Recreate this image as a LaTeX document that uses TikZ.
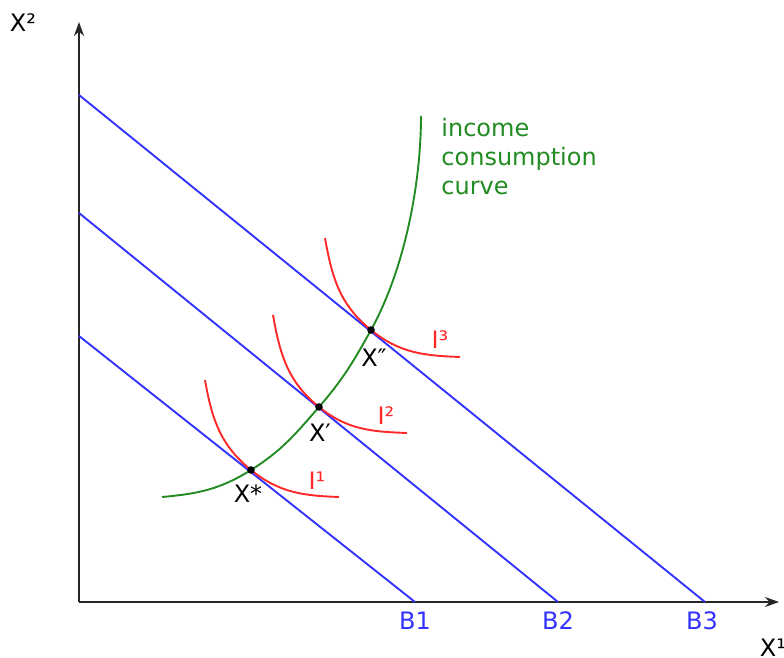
\documentclass[tikz,border=0pt]{standalone}
\usepackage{fontspec}
\setmainfont{DejaVu Sans}
\usetikzlibrary{arrows.meta}
\definecolor{budget}{RGB}{51,51,255}
\definecolor{indiff}{RGB}{255,40,40}
\definecolor{icc}{RGB}{34,139,34}
\tikzset{axis/.style={-{Stealth[length=7pt,width=5pt]}, line width=0.9pt, black!85},
  bline/.style={budget, line width=0.95pt},
  icurve/.style={indiff, line width=0.95pt},
  optpt/.style={circle, fill=black, inner sep=0pt, minimum size=3.8pt}}

\begin{document}
\begin{tikzpicture}[x=0.5pt, y=0.5pt, font=\fontsize{12}{14.5}\selectfont]
  \useasboundingbox (0,0) rectangle (784,658);
  % axes
  \coordinate (o) at (79,56);
  \coordinate (ytip) at (79,636);
  \coordinate (xtip) at (779,56);
  \draw[axis] (o) -- (ytip);
  \draw[axis] (o) -- (xtip);
  \node (xtwo) at (23,635) {X²};
  \node (xone) at (773,10) {X¹};
  % budget lines B1..B3
  \coordinate (b1a) at (79,322);  \coordinate (b1b) at (415,56);
  \coordinate (b2a) at (79,445);  \coordinate (b2b) at (558,56);
  \coordinate (b3a) at (79,563);  \coordinate (b3b) at (705,56);
  \draw[bline] (b1a) -- (b1b);
  \draw[bline] (b2a) -- (b2b);
  \draw[bline] (b3a) -- (b3b);
  \node[text=budget] (bone) at (415,37) {B1};
  \node[text=budget] (btwo) at (558,37) {B2};
  \node[text=budget] (bthree) at (702,37) {B3};
  % optimal bundles
  \coordinate (xs) at (251,188);
  \coordinate (xp) at (319,251);
  \coordinate (xpp) at (371,328);
  % indifference curves, tangent to the budget lines
  \coordinate (i1a) at (205,278);  \coordinate (i1b) at (339,161);
  \coordinate (i2a) at (273,343);  \coordinate (i2b) at (407,225);
  \coordinate (i3a) at (325,420);  \coordinate (i3b) at (460,301);
  \draw[icurve] (i1a) to[out=-80,in=141] (xs) to[out=-39,in=178] (i1b);
  \draw[icurve] (i2a) to[out=-80,in=141] (xp) to[out=-39,in=178] (i2b);
  \draw[icurve] (i3a) to[out=-80,in=141] (xpp) to[out=-39,in=178] (i3b);
  \node[text=indiff] (ione) at (317,177) {I¹};
  \node[text=indiff] (itwo) at (386,242) {I²};
  \node[text=indiff] (ithree) at (440,318) {I³};
  % income consumption curve
  \coordinate (icca) at (162,161);
  \coordinate (iccb) at (421,542);
  \draw[icc, line width=0.95pt] (icca) to[out=5,in=212] (xs) to[out=32,in=229] (xp)
    to[out=49,in=241] (xpp) to[out=61,in=-90,looseness=0.8] (iccb);
  \node[text=icc, align=left, anchor=north west, inner sep=0pt] (icctext) at (441,540)
    {income\\consumption\\curve};
  % points and their labels
  \node[optpt] (xsdot) at (xs) {};
  \node[optpt] (xpdot) at (xp) {};
  \node[optpt] (xppdot) at (xpp) {};
  \node (xslab) at (248,164) {X*};
  \node (xplab) at (320,225) {X′};
  \node (xpplab) at (374,300) {X″};
\end{tikzpicture}
\end{document}
